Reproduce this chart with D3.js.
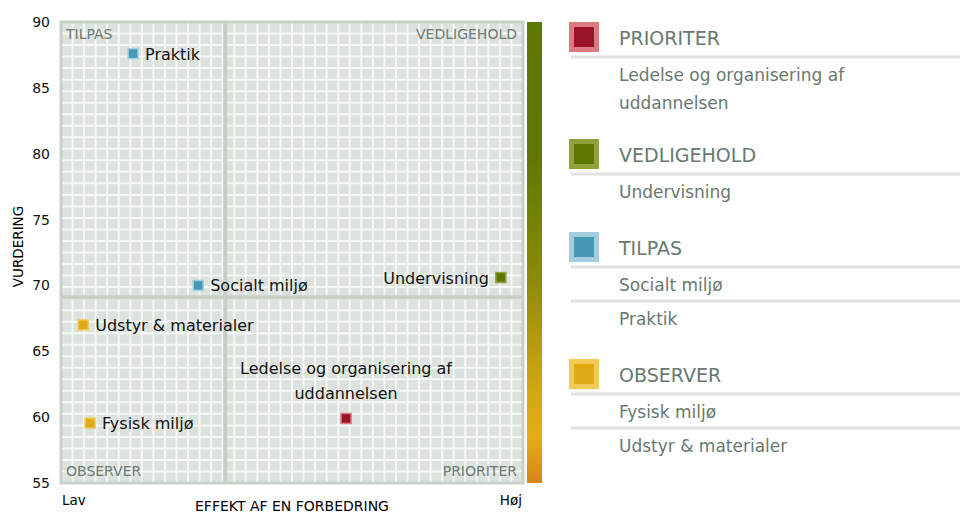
<!DOCTYPE html>
<html>
<head>
<meta charset="utf-8">
<script src="https://cdn.jsdelivr.net/npm/d3@7"></script>
<style>
body { margin: 0; background: #fff; }
svg { font-family: "DejaVu Sans", Verdana, sans-serif; }
</style>
</head>
<body>
<div class="chart"></div>
<script>
// data
var names = ["Praktik", "Socialt miljø", "Undervisning", "Udstyr & materialer", "Ledelse og organisering af uddannelsen", "Fysisk miljø"];
var effekt = [15.6, 29.7, 95.2, 4.8, 61.7, 6.3];
var vurdering = [87.6, 70.0, 70.6, 67.0, 59.9, 59.55];
var kategori = ["TILPAS", "TILPAS", "VEDLIGEHOLD", "OBSERVER", "PRIORITER", "OBSERVER"];
var yTicks = [55, 60, 65, 70, 75, 80, 85, 90];

var groups = ["PRIORITER", "VEDLIGEHOLD", "TILPAS", "OBSERVER"];
var groupItems = [
    ["Ledelse og organisering af|uddannelsen"],
    ["Undervisning"],
    ["Socialt miljø", "Praktik"],
    ["Fysisk miljø", "Udstyr & materialer"]
];
var inner = { PRIORITER: "#9a1428", VEDLIGEHOLD: "#5e7700", TILPAS: "#4897b6", OBSERVER: "#e0aa14" };
var outer = { PRIORITER: "#da7b7f", VEDLIGEHOLD: "#8fa23c", TILPAS: "#a4cedd", OBSERVER: "#f2ca55" };

var marg = { t: 22, r: 437, b: 31, l: 61 };
var wid = 960 - marg.l - marg.r;
var hei = 514 - marg.t - marg.b;

var svg = d3.select(".chart").append("svg")
    .attr("width", 960)
    .attr("height", 514);

var g = svg.append("g")
    .attr("transform", "translate(" + marg.l + "," + marg.t + ")");

var xscale = d3.scaleLinear().domain([0, 100]).range([0, wid]);
var yscale = d3.scaleLinear().domain([55, 90]).range([hei, 0]);

// background + grid
g.append("rect")
    .attr("width", wid).attr("height", hei)
    .style("fill", "#dce2de");

var n = 40;
d3.range(1, n).forEach(function(i) {
    g.append("line")
        .attr("x1", i * wid / n).attr("x2", i * wid / n)
        .attr("y1", 0).attr("y2", hei)
        .style("stroke", "#f6f8f6").style("stroke-width", 2);
    g.append("line")
        .attr("y1", i * hei / n).attr("y2", i * hei / n)
        .attr("x1", 0).attr("x2", wid)
        .style("stroke", "#f6f8f6").style("stroke-width", 2);
});

// mean lines split the quadrants
var mx = d3.mean(effekt), my = d3.mean(vurdering);
g.append("line")
    .attr("x1", xscale(mx)).attr("x2", xscale(mx))
    .attr("y1", 0).attr("y2", hei)
    .style("stroke", "#c6d0c7").style("stroke-width", 4);
g.append("line")
    .attr("y1", yscale(my)).attr("y2", yscale(my))
    .attr("x1", 0).attr("x2", wid)
    .style("stroke", "#c6d0c7").style("stroke-width", 4);

g.append("rect")
    .attr("width", wid).attr("height", hei)
    .style("fill", "none")
    .style("stroke", "#c8d1c9").style("stroke-width", 3);

// quadrant names
var quad = [
    ["TILPAS", 5, 17, "start"],
    ["VEDLIGEHOLD", wid - 6, 17, "end"],
    ["OBSERVER", 5, hei - 7, "start"],
    ["PRIORITER", wid - 6, hei - 7, "end"]
];
g.selectAll(".quad").data(quad).enter().append("text")
    .attr("class", "quad")
    .attr("x", function(d) { return d[1]; })
    .attr("y", function(d) { return d[2]; })
    .style("text-anchor", function(d) { return d[3]; })
    .style("font-size", "14px")
    .style("fill", "#6c7a72")
    .text(function(d) { return d[0]; });

// y axis
var yAxis = d3.axisLeft(yscale).tickValues(yTicks).tickSize(0).tickPadding(11);
var ya = g.append("g").call(yAxis);
ya.select(".domain").remove();
ya.selectAll("text").style("font-size", "14px").style("fill", "#111")
    .style("font-family", "DejaVu Sans, sans-serif");

g.append("text")
    .attr("transform", "rotate(-90)")
    .attr("x", -(hei / 2) + 6)
    .attr("y", -38)
    .style("text-anchor", "middle")
    .style("font-size", "13.5px")
    .text("VURDERING");

g.append("text")
    .attr("x", wid / 2)
    .attr("y", hei + 28)
    .style("text-anchor", "middle")
    .style("font-size", "14px")
    .text("EFFEKT AF EN FORBEDRING");

g.append("text").attr("x", 1).attr("y", hei + 22)
    .style("font-size", "13.5px").text("Lav");
g.append("text").attr("x", wid - 1).attr("y", hei + 22)
    .style("text-anchor", "end").style("font-size", "13.5px").text("Høj");

// colour bar
var grad = svg.append("defs").append("linearGradient")
    .attr("id", "bar").attr("x1", 0).attr("x2", 0).attr("y1", 0).attr("y2", 1);
[[0, "#5d7800"], [0.3, "#607800"], [0.55, "#8a8a06"], [0.8, "#d2a810"], [0.9, "#e2ae14"], [1, "#d4861a"]]
    .forEach(function(s) {
        grad.append("stop").attr("offset", s[0]).attr("stop-color", s[1]);
    });
g.append("rect")
    .attr("x", wid + 4).attr("y", 0)
    .attr("width", 15).attr("height", hei)
    .style("fill", "url(#bar)");

// points
var pts = g.selectAll(".pt").data(names).enter().append("g")
    .attr("class", "pt")
    .attr("transform", function(d, i) {
        return "translate(" + xscale(effekt[i]) + "," + yscale(vurdering[i]) + ")";
    });

pts.append("rect")
    .attr("x", -5).attr("y", -5).attr("width", 10).attr("height", 10)
    .style("fill", function(d, i) { return inner[kategori[i]]; })
    .style("stroke", function(d, i) { return outer[kategori[i]]; })
    .style("stroke-width", 1.5);

var lblPos = [
    ["start", 12, 6],
    ["start", 12, 6],
    ["end", -12, 6],
    ["start", 12, 6],
    ["middle", 0, -44],
    ["start", 12, 6]
];
pts.each(function(d, i) {
    var t = d3.select(this).append("text")
        .style("text-anchor", lblPos[i][0])
        .style("font-size", "16px")
        .style("fill", "#111");
    if (i == 4) {
        t.append("tspan").attr("x", 0).attr("y", -44).text("Ledelse og organisering af");
        t.append("tspan").attr("x", 0).attr("y", -19).text("uddannelsen");
    } else {
        t.attr("x", lblPos[i][1]).attr("y", lblPos[i][2]).text(d);
    }
});

// legend
var lg = svg.append("g").attr("transform", "translate(569,0)");
var yy = 22;
groups.forEach(function(grp, k) {
    lg.append("rect").attr("x", 0).attr("y", yy).attr("width", 30).attr("height", 30)
        .style("fill", outer[grp]);
    lg.append("rect").attr("x", 5).attr("y", yy + 5).attr("width", 20).attr("height", 20)
        .style("fill", inner[grp]);
    lg.append("text").attr("x", 50).attr("y", yy + 23)
        .style("font-size", "19px").style("fill", "#687870")
        .text(grp);
    var ly = yy + 35, extra = 0;
    groupItems[k].forEach(function(it, m) {
        if (m > 0) ly += 34;
        lg.append("line").attr("x1", 2).attr("x2", 391).attr("y1", ly).attr("y2", ly)
            .style("stroke", "#e2e2e2").style("stroke-width", 3);
        var parts = it.split("|");
        parts.forEach(function(p, j) {
            lg.append("text").attr("x", 50).attr("y", ly + 24 + j * 28)
                .style("font-size", "17px").style("fill", "#687870")
                .text(p);
        });
        extra = (parts.length - 1) * 24;
    });
    yy = ly + 58 + extra;
});
</script>
</body>
</html>
